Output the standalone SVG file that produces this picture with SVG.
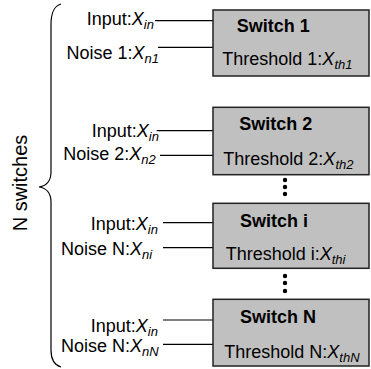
<svg xmlns="http://www.w3.org/2000/svg" width="371" height="369" viewBox="0 0 371 369">
<style>
text{font-family:"Liberation Sans",Arial,sans-serif;font-size:18px;fill:#000}
.b{font-weight:bold}
.i{font-style:italic}
.s{font-style:italic;font-size:13px}
.box{fill:#c0c0c0;stroke:#222;stroke-width:1.5}
.ln{stroke:#000;stroke-width:1.2;fill:none}
.dot{fill:#000}
</style>
<rect width="371" height="369" fill="#fff"/>
<g id="brace">
<path class="ln" d="M61,4 C54,6 51,12 51,25 L51,172 C51,181 46,186 39,187 C46,188 51,193 51,202 L51,350 C51,360 54,365 61,367"/>
<text transform="translate(27,183) rotate(-90)" text-anchor="middle" font-size="20" style="font-size:20px">N switches</text>
</g>
<g id="connectors">
<line class="ln" x1="155" y1="20.7" x2="213" y2="20.7"/>
<line class="ln" x1="158" y1="47.3" x2="213" y2="47.3"/>
<line class="ln" x1="156.7" y1="130.7" x2="213" y2="130.7"/>
<line class="ln" x1="160" y1="155.3" x2="213" y2="155.3"/>
<line class="ln" x1="163" y1="222.7" x2="213" y2="222.7"/>
<line class="ln" x1="163" y1="247.7" x2="213" y2="247.7"/>
<line class="ln" x1="163" y1="320" x2="213" y2="320"/>
<line class="ln" x1="163" y1="344.3" x2="213" y2="344.3"/>
</g>
<g id="labels">
<text x="86.7" y="25">Input:<tspan class="i">X</tspan><tspan class="s" dy="4">in</tspan></text>
<text x="66.5" y="59">Noise 1:<tspan class="i">X</tspan><tspan class="s" dy="4">n1</tspan></text>
<text x="91.7" y="136.7">Input:<tspan class="i">X</tspan><tspan class="s" dy="4">in</tspan></text>
<text x="63.3" y="160">Noise 2:<tspan class="i">X</tspan><tspan class="s" dy="4">n2</tspan></text>
<text x="90.7" y="230">Input:<tspan class="i">X</tspan><tspan class="s" dy="4">in</tspan></text>
<text x="61" y="255">Noise N:<tspan class="i">X</tspan><tspan class="s" dy="4">ni</tspan></text>
<text x="90.7" y="331.7">Input:<tspan class="i">X</tspan><tspan class="s" dy="4">in</tspan></text>
<text x="61" y="351.7">Noise N:<tspan class="i">X</tspan><tspan class="s" dy="4">nN</tspan></text>
</g>
<g id="switch1">
<rect class="box" x="213" y="10" width="156" height="66"/>
<text class="b" x="236.7" y="32">Switch 1</text>
<text x="222.3" y="65">Threshold 1:<tspan class="i">X</tspan><tspan class="s" dy="4">th1</tspan></text>
</g>
<g id="switch2">
<rect class="box" x="213" y="107.3" width="156" height="67.4"/>
<text class="b" x="239.3" y="130">Switch 2</text>
<text x="223.3" y="165">Threshold 2:<tspan class="i">X</tspan><tspan class="s" dy="4">th2</tspan></text>
</g>
<g id="switchi">
<rect class="box" x="213" y="203.3" width="156" height="65"/>
<text class="b" x="240" y="226.7">Switch i</text>
<text x="225.7" y="260">Threshold i:<tspan class="i">X</tspan><tspan class="s" dy="4">thi</tspan></text>
</g>
<g id="switchN">
<rect class="box" x="213" y="299.3" width="156" height="66.7"/>
<text class="b" x="240" y="323">Switch N</text>
<text x="224.3" y="358">Threshold N:<tspan class="i">X</tspan><tspan class="s" dy="4">thN</tspan></text>
</g>
<g id="dots">
<circle class="dot" cx="285" cy="180" r="2.2"/>
<circle class="dot" cx="285" cy="187" r="2.2"/>
<circle class="dot" cx="285" cy="194" r="2.2"/>
<circle class="dot" cx="285" cy="276" r="2.2"/>
<circle class="dot" cx="285" cy="283" r="2.2"/>
<circle class="dot" cx="285" cy="291" r="2.2"/>
</g>
</svg>
